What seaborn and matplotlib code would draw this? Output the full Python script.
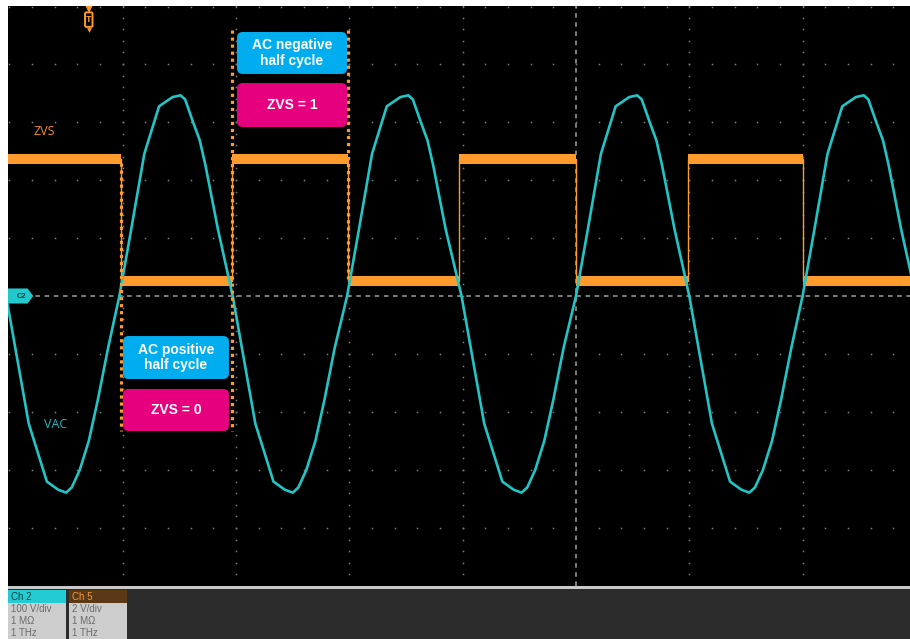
import numpy as np
import matplotlib
matplotlib.use("Agg")
import matplotlib.pyplot as plt
import seaborn as sns
from matplotlib.patches import FancyBboxPatch, Rectangle, Polygon

# ------------------------------------------------------------------ data
# time in horizontal divisions (0 = trigger / centre line)
vac_time_div = [
    -5.03, -4.93, -4.83, -4.67, -4.57, -4.50, -4.45, -4.38, -4.30, -4.22, -4.13,
    -4.03, -3.93, -3.81, -3.68, -3.56, -3.49, -3.45, -3.38, -3.32, -3.27, -3.16,
    -3.03, -2.93, -2.83, -2.67, -2.57, -2.50, -2.45, -2.38, -2.30, -2.22, -2.13,
    -2.02, -1.92, -1.80, -1.67, -1.55, -1.48, -1.44, -1.37, -1.31, -1.26, -1.15,
    -1.01, -0.91, -0.81, -0.65, -0.55, -0.48, -0.43, -0.36, -0.28, -0.20, -0.11,
    0.00, 0.10, 0.22, 0.35, 0.47, 0.54, 0.58, 0.65, 0.71, 0.76, 0.87,
    1.00, 1.10, 1.20, 1.36, 1.46, 1.53, 1.58, 1.65, 1.73, 1.81, 1.90,
    2.00, 2.10, 2.22, 2.35, 2.47, 2.54, 2.58, 2.65, 2.71, 2.76, 2.87,
    3.00,
]
vac_volts = [
    0, -110, -220, -320, -334, -339, -330, -300, -250, -179, -90,
    0, 110, 245, 327, 343, 346, 339, 300, 268, 225, 115,
    0, -110, -220, -320, -334, -339, -330, -300, -250, -179, -90,
    0, 110, 245, 327, 343, 346, 339, 300, 268, 225, 115,
    0, -110, -220, -320, -334, -339, -330, -300, -250, -179, -90,
    0, 110, 245, 327, 343, 346, 339, 300, 268, 225, 115,
    0, -110, -220, -320, -334, -339, -330, -300, -250, -179, -90,
    0, 110, 245, 327, 343, 346, 339, 300, 268, 225, 115,
    0,
]
zvs_edge_div = [-5.05, -4.02, -3.04, -2.01, -1.03, 0.00, 0.99, 2.00, 3.00]
zvs_volts = [4.2, 0.0, 4.2, 0.0, 4.2, 0.0, 4.2, 0.0, 0.0]

vac_volts_per_div = 100
zvs_volts_per_div = 2
zvs_offset_div = 0.26

ch_names = ["Ch 2", "Ch 5"]
ch_scales = ["100 V/div", "2 V/div"]
ch_imped = ["1 MΩ", "1 MΩ"]
ch_bw = ["1 THz", "1 THz"]

# ------------------------------------------------------------------ style
CYAN = "#22c4c6"
ORANGE = "#ff9a2c"
BOX_BLUE = "#00aeef"
BOX_PINK = "#e6007e"
FONT = ["Liberation Sans", "DejaVu Sans"]
plt.rcParams["font.family"] = FONT

vac_div = np.array(vac_volts) / vac_volts_per_div
zvs_div = zvs_offset_div + np.array(zvs_volts) / zvs_volts_per_div

W, H = 910, 639
fig = plt.figure(figsize=(W / 100, H / 100), dpi=100, facecolor="white")
ax = fig.add_axes([8 / W, 1 - 586 / H, 902 / W, 580 / H])
ax.set_facecolor("black")
ax.set_xlim(-5.013, 2.948)
ax.set_ylim(-5, 5)
for s in ax.spines.values():
    s.set_visible(False)
ax.set_xticks([])
ax.set_yticks([])

# graticule dots
minor = np.round(np.arange(-5, 5.001, 0.2), 2)
for xm in [-4, -3, -2, -1, 1, 2]:
    ax.plot(np.full(len(minor) - 1, xm), minor[1:], ls="none", marker="s",
            ms=1.1, mew=0, color="#7c7c7c", zorder=1)
for ym in [-4, -3, -2, -1, 1, 2, 3, 4, 4.98]:
    xs = minor[minor < 3]
    ax.plot(xs, np.full(len(xs), ym), ls="none", marker="s",
            ms=1.1, mew=0, color="#7c7c7c", zorder=1)
ax.axhline(0, color="#a0a0a0", lw=1.1, ls=(0, (3, 3)), zorder=1)
ax.axvline(0, color="#a0a0a0", lw=1.1, ls=(0, (3, 3)), zorder=1)

# ZVS trace
sns.lineplot(x=zvs_edge_div, y=zvs_div, ax=ax, color=ORANGE, lw=1.0,
             drawstyle="steps-post", estimator=None, sort=False, zorder=3)
ax.hlines(zvs_div[:-1], zvs_edge_div[:-1], zvs_edge_div[1:], color=ORANGE,
          lw=7.2, zorder=3)

# VAC trace
sns.lineplot(x=vac_time_div, y=vac_div, ax=ax, color=CYAN, lw=1.9,
             estimator=None, sort=False, zorder=4)
ax.set_xlabel("")
ax.set_ylabel("")

# dotted annotation brackets
for xd, y0, y1 in [(-4.02, 2.3, -2.33), (-3.04, 4.59, -2.33), (-2.01, 4.59, 0.3)]:
    ax.plot([xd, xd], [y0, y1], color=ORANGE, lw=2.3, ls=(0, (1, 1.2)),
            dash_capstyle="butt", zorder=5)

asp = 113.3 / 58


def box(x0, x1, y0, y1, color, text):
    p = FancyBboxPatch((x0, y0), x1 - x0, y1 - y0,
                       boxstyle="round,pad=0,rounding_size=0.05",
                       mutation_aspect=asp, fc=color, ec="none", zorder=6)
    ax.add_patch(p)
    ax.text((x0 + x1) / 2, (y0 + y1) / 2, text, ha="center", va="center",
            color="white", fontsize=10, fontweight="bold", linespacing=1.15,
            zorder=7)


box(-2.992, -2.021, 3.828, 4.552, BOX_BLUE, "AC negative\nhalf cycle")
box(-2.992, -2.021, 2.914, 3.672, BOX_PINK, "ZVS = 1")
box(-3.998, -3.063, -1.431, -0.690, BOX_BLUE, "AC positive\nhalf cycle")
box(-3.998, -3.063, -2.328, -1.603, BOX_PINK, "ZVS = 0")

# trace labels
ax.text(-4.69, 2.83, "ZVS", color="#f0902a", fontsize=9, ha="center",
        va="center", family=["Open Sans", "DejaVu Sans"])
ax.text(-4.59, -2.21, "VAC", color="#26b8bc", fontsize=9, ha="center",
        va="center", family=["Open Sans", "DejaVu Sans"])

# channel marker C2
ax.add_patch(Polygon([(-5.013, 0.13), (-4.84, 0.13), (-4.79, 0.0),
                      (-4.84, -0.13), (-5.013, -0.13)], closed=True,
                     fc="#22c8cc", ec="none", zorder=6))
ax.text(-4.895, 0.0, "C2", fontsize=5.5, color="#0d4646", ha="center",
        va="center", fontweight="bold", zorder=7)

# trigger marker T
ax.plot([-4.30], [4.985], marker="v", ms=8, color=ORANGE, mew=0, zorder=6)
ax.add_patch(FancyBboxPatch((-4.333, 4.64), 0.066, 0.25,
                            boxstyle="round,pad=0,rounding_size=0.012",
                            mutation_aspect=asp, fc="black", ec=ORANGE,
                            lw=1.4, zorder=6))
ax.text(-4.30, 4.765, "T", fontsize=6.5, color=ORANGE, ha="center",
        va="center", fontweight="bold", zorder=7)
ax.plot([-4.30], [4.585], marker="v", ms=3.4, color=ORANGE, mew=0, zorder=6)

# ------------------------------------------------------------------ bottom panel


def fy(py):
    return 1 - py / H


fig.patches.append(Rectangle((8 / W, fy(589)), 902 / W, 3 / H,
                             transform=fig.transFigure, fc="#c9c9c9", ec="none"))
fig.patches.append(Rectangle((8 / W, 0), 902 / W, fy(589),
                             transform=fig.transFigure, fc="#2c2c2c", ec="none"))

hdr_colors = ["#22ccd2", "#5b3916"]
hdr_text = ["#0f3c3e", "#f29a3a"]
x_starts = [8, 69]
for i, name in enumerate(ch_names):
    x0 = x_starts[i]
    fig.patches.append(Rectangle((x0 / W, fy(603)), 58 / W, 13 / H,
                                 transform=fig.transFigure, fc=hdr_colors[i],
                                 ec="none"))
    fig.patches.append(Rectangle((x0 / W, 0), 58 / W, fy(603),
                                 transform=fig.transFigure, fc="#cdcdcd",
                                 ec="none"))
    fig.text((x0 + 3) / W, fy(596.5), name, fontsize=7, color=hdr_text[i],
             ha="left", va="center")
    for j, t in enumerate([ch_scales[i], ch_imped[i], ch_bw[i]]):
        fig.text((x0 + 3) / W, fy(609.5 + 11.8 * j), t, fontsize=7,
                 color="#6a6a6a", ha="left", va="center")

fig.savefig("out.png", dpi=100, facecolor="white")
